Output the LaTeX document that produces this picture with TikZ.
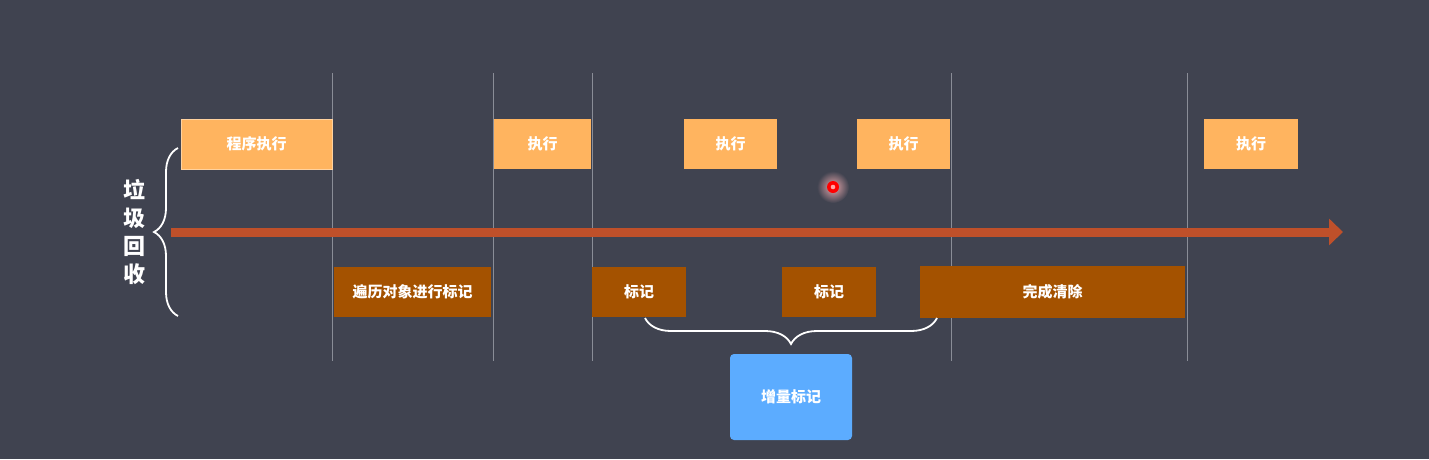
\documentclass[tikz,border=0pt]{standalone}
\usepackage{fontspec}
\newfontfamily\cjk{Noto Sans CJK SC}
\usetikzlibrary{arrows.meta,decorations.pathreplacing,positioning}
\definecolor{bg}{HTML}{404350}
\definecolor{runc}{HTML}{FFB45F}
\definecolor{markc}{HTML}{A45200}
\definecolor{axisc}{HTML}{BF502A}
\definecolor{vline}{HTML}{8A8D97}
\definecolor{bluec}{HTML}{5CACFF}
\definecolor{glow}{HTML}{E8A8AC}
\begin{document}
\begin{tikzpicture}[x=1pt,y=-1pt,
  runbox/.style={fill=runc,draw=none,inner sep=0pt,font=\cjk\bfseries\fontsize{15}{17}\selectfont,text=white},
  markbox/.style={fill=markc,draw=none,inner sep=0pt,font=\cjk\bfseries\fontsize{15}{17}\selectfont,text=white},
  sep/.style={draw=vline,line width=0.8pt},
  bracestyle/.style={draw=white,line width=1.8pt,decorate}]
\fill[bg] (0,0) rectangle (1429,459);
\useasboundingbox (0,0) rectangle (1429,459);
% separators
\foreach \n/\x in {s1/332,s2/493,s3/592,s4/951,s5/1187}{
  \coordinate (\n t) at (\x,73);
  \coordinate (\n b) at (\x,361);
  \draw[sep] (\n t) -- (\n b);
}
% axis
\coordinate (ax0) at (171,232);
\coordinate (ax1) at (1343,232);
\draw[axisc,line width=9pt,-{Triangle[width=26pt,length=14pt]}] (ax0) -- (ax1);
% run boxes
\node[runbox,draw=runc!60!white,line width=0.8pt,minimum width=151pt,minimum height=50pt] (r1) at (256.5,144) {程序执行};
\node[runbox,minimum width=97pt,minimum height=50pt] (r2) at (542.5,144) {执行};
\node[runbox,minimum width=93pt,minimum height=50pt] (r3) at (730.5,144) {执行};
\node[runbox,minimum width=93pt,minimum height=50pt] (r4) at (903.5,144) {执行};
\node[runbox,minimum width=94pt,minimum height=50pt] (r5) at (1251,144) {执行};
% mark boxes
\node[markbox,minimum width=157pt,minimum height=50pt] (m1) at (412.5,292) {遍历对象进行标记};
\node[markbox,minimum width=94pt,minimum height=50pt] (m2) at (639,292) {标记};
\node[markbox,minimum width=94pt,minimum height=50pt] (m3) at (829,292) {标记};
\node[markbox,minimum width=265pt,minimum height=52pt] (m4) at (1052.5,292) {完成清除};
% left brace
\coordinate (lb1) at (178,316);
\coordinate (lb2) at (178,148);
\draw[bracestyle,decoration={brace,amplitude=24pt,aspect=0.5}] (lb1) -- (lb2);
\node[font=\cjk\bfseries\fontsize{22}{27.7}\selectfont,text=white,align=center,inner sep=0pt] (gc) at (134,232) {垃\\圾\\回\\收};
% bottom brace
\coordinate (bb1) at (937,318);
\coordinate (bb2) at (645,318);
\draw[bracestyle,decoration={brace,amplitude=26pt,aspect=0.5}] (bb1) -- (bb2);
\node[fill=bluec,rounded corners=4pt,minimum width=122pt,minimum height=86pt,inner sep=0pt,font=\cjk\bfseries\fontsize{15}{17}\selectfont,text=white] (inc) at (791,397) {增量标记};
% cursor highlight
\shade[inner color=glow,outer color=bg] (833,187) circle (16);
\fill[red] (833,187) circle (6);
\fill[red!35!white] (833,187) circle (2.3);
\end{tikzpicture}
\end{document}
